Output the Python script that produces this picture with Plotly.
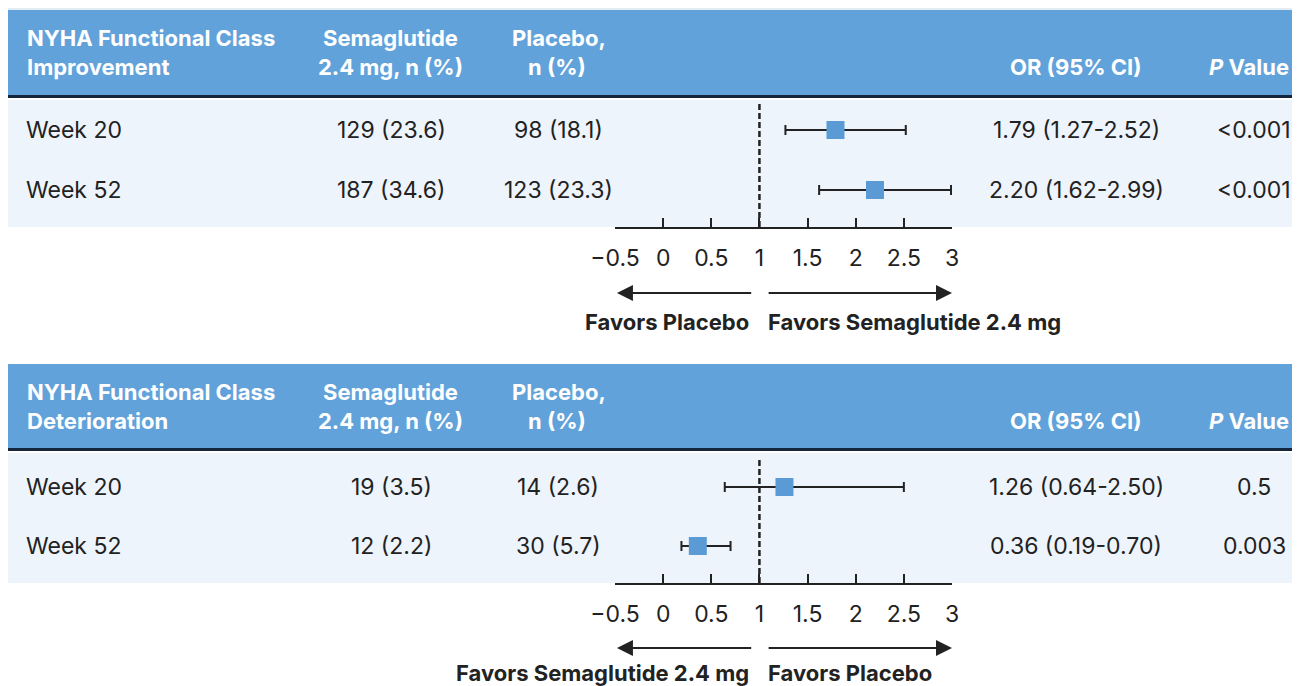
import plotly.graph_objects as go

W, H = 1300, 686
OX, OY = 8, 8  # page body margin offset

# ---------------- data ----------------
row_labels = ["Week 20", "Week 52"]

imp_sema = ["129 (23.6)", "187 (34.6)"]
imp_plac = ["98 (18.1)", "123 (23.3)"]
imp_or = [1.79, 2.20]
imp_lo = [1.27, 1.62]
imp_hi = [2.52, 2.99]
imp_p = ["<0.001", "<0.001"]

det_sema = ["19 (3.5)", "12 (2.2)"]
det_plac = ["14 (2.6)", "30 (5.7)"]
det_or = [1.26, 0.36]
det_lo = [0.64, 0.19]
det_hi = [2.50, 0.70]
det_p = ["0.5", "0.003"]

tick_vals = [-0.5, 0, 0.5, 1, 1.5, 2, 2.5, 3]
tick_text = ["\u22120.5", "0", "0.5", "1", "1.5", "2", "2.5", "3"]

# ---------------- style ----------------
FONT = "Inter"
HEAD_BG = "#62a2da"
ROW_BG = "#eef4fb"
DARK = "#222222"
BOX = "#5b9bd5"


def px(x):
    return (x - OX) / W


def py(y):
    return 1 - (y - OY) / H


fig = go.Figure()

panels = [
    dict(name="Improvement", sema=imp_sema, plac=imp_plac, orv=imp_or, lo=imp_lo, hi=imp_hi, p=imp_p,
         xa="x", ya="y", head=(10, 95), band=(97, 227), dom=(102, 227), rows=(130, 60),
         favors=("Favors Placebo", "Favors Semaglutide 2.4 mg"), fav_y=(293, 322)),
    dict(name="Deterioration", sema=det_sema, plac=det_plac, orv=det_or, lo=det_lo, hi=det_hi, p=det_p,
         xa="x2", ya="y2", head=(364, 448), band=(450, 583), dom=(458, 583), rows=(487, 59),
         favors=("Favors Semaglutide 2.4 mg", "Favors Placebo"), fav_y=(648, 673)),
]

shapes = []
annotations = []

# top strip with clipped figure title
shapes.append(dict(type="rect", xref="paper", yref="paper", x0=px(5), x1=1.01, y0=py(10), y1=1.01,
                   fillcolor="#e3ecf5", line_width=0, layer="below"))
annotations.append(dict(xref="paper", yref="paper", x=px(16), y=py(9), xanchor="left", yanchor="bottom",
                        showarrow=False,
                        text="<span style='color:#e03a2f'>FIGURE 1</span>  Effects of Semaglutide vs Placebo on NYHA Functional Class",
                        font=dict(family=FONT, size=15, color="#4a7fb0", weight="bold")))

layout_axes = {}
for k, pn in enumerate(panels):
    h0, h1 = pn["head"]
    b0, b1 = pn["band"]
    d0, d1 = pn["dom"]
    r0, rs = pn["rows"]
    shapes.append(dict(type="rect", xref="paper", yref="paper", x0=px(5), x1=1.01, y0=py(h1), y1=py(h0),
                       fillcolor=HEAD_BG, line_width=0, layer="below"))
    shapes.append(dict(type="line", xref="paper", yref="paper", x0=px(5), x1=1.01, y0=py(h1 + 1.5),
                       y1=py(h1 + 1.5), line=dict(color="#15263c", width=3), layer="below"))
    shapes.append(dict(type="rect", xref="paper", yref="paper", x0=px(7), x1=1.01, y0=py(b1), y1=py(b0 + 3),
                       fillcolor=ROW_BG, line_width=0, layer="below"))

    # header text
    hy1, hy2 = h0 + 28, h0 + 57
    hf = dict(family=FONT, size=22, color="white", weight="bold")

    def head(x, y, t, anchor):
        annotations.append(dict(xref="paper", yref="paper", x=px(x), y=py(y), text=t, showarrow=False,
                                xanchor=anchor, yanchor="middle", font=hf))
    head(25, hy1, "NYHA Functional Class", "left")
    head(25, hy2, pn["name"], "left")
    head(390, hy1, "Semaglutide", "center")
    head(390, hy2, "2.4 mg, n (%)", "center")
    head(559, hy1, "Placebo,", "center")
    head(557, hy2, "n (%)", "center")
    head(1076, hy2, "OR (95% CI)", "center")
    head(1291, hy2, "<i>P</i> Value", "right")

    # axes
    top_idx = -(r0 - d0) / rs
    bot_idx = (d1 - r0) / rs
    xname = "xaxis" if k == 0 else "xaxis2"
    yname = "yaxis" if k == 0 else "yaxis2"
    layout_axes[xname] = dict(domain=[px(615), px(952)], range=[-0.5, 3], anchor=pn["ya"],
                              tickvals=tick_vals, ticktext=tick_text, ticks="inside", ticklen=9,
                              tickwidth=2, tickcolor=DARK, showline=True, linewidth=2, linecolor=DARK,
                              showgrid=False, zeroline=False, ticklabelstandoff=9, automargin=False,
                              tickfont=dict(family=FONT, size=23, color=DARK), fixedrange=True)
    layout_axes[yname] = dict(domain=[py(d1), py(d0)], range=[bot_idx, top_idx], anchor=pn["xa"],
                              visible=False, showgrid=False, zeroline=False, fixedrange=True,
                              automargin=False)

    yidx = list(range(len(row_labels)))
    fig.add_trace(go.Scatter(
        x=pn["orv"], y=yidx, xaxis=pn["xa"], yaxis=pn["ya"], mode="markers",
        marker=dict(symbol="square", size=18, color=BOX, line_width=0),
        error_x=dict(type="data", symmetric=False,
                     array=[h - o for h, o in zip(pn["hi"], pn["orv"])],
                     arrayminus=[o - l for o, l in zip(pn["orv"], pn["lo"])],
                     color=DARK, thickness=2, width=5),
        showlegend=False, hoverinfo="skip"))

    # reference line at OR = 1
    shapes.append(dict(type="line", xref=pn["xa"], yref=pn["ya"] + " domain", x0=1, x1=1, y0=0, y1=1,
                       line=dict(color=DARK, width=2.5, dash="6px,3px")))

    # row text
    bf = dict(family=FONT, size=23, color=DARK)
    for i, lab in enumerate(row_labels):
        def cell(x, t, anchor):
            annotations.append(dict(xref="paper", yref=pn["ya"], x=px(x), y=i, text=t, showarrow=False,
                                    xanchor=anchor, yanchor="middle", font=bf))
        cell(24, lab, "left")
        cell(391, pn["sema"][i], "center")
        cell(558, pn["plac"][i], "center")
        cell(1076, f"{pn['orv'][i]:.2f} ({pn['lo'][i]:.2f}-{pn['hi'][i]:.2f})", "center")
        cell(1254, pn["p"][i], "center")

    # favors arrows + text
    ay, ty = pn["fav_y"]
    annotations.append(dict(xref=pn["xa"], yref="paper", x=-0.48, y=py(ay), axref=pn["xa"], ayref="pixel",
                            ax=0.93, ay=0, showarrow=True, arrowhead=2, arrowsize=1.6, arrowwidth=2,
                            arrowcolor=DARK, text=""))
    annotations.append(dict(xref=pn["xa"], yref="paper", x=3.0, y=py(ay), axref=pn["xa"], ayref="pixel",
                            ax=1.08, ay=0, showarrow=True, arrowhead=2, arrowsize=1.6, arrowwidth=2,
                            arrowcolor=DARK, text=""))
    ff = dict(family=FONT, size=22, color=DARK, weight="bold")
    annotations.append(dict(xref="paper", yref="paper", x=px(751), y=py(ty), text=pn["favors"][0],
                            showarrow=False, xanchor="right", yanchor="middle", font=ff))
    annotations.append(dict(xref="paper", yref="paper", x=px(766), y=py(ty), text=pn["favors"][1],
                            showarrow=False, xanchor="left", yanchor="middle", font=ff))

fig.update_layout(
    width=W, height=H, margin=dict(l=0, r=0, t=0, b=0, pad=0), autosize=False,
    paper_bgcolor="white", plot_bgcolor="rgba(0,0,0,0)",
    shapes=shapes, annotations=annotations, showlegend=False,
    **layout_axes,
)

fig.write_html("out.html", config={"displayModeBar": False})
